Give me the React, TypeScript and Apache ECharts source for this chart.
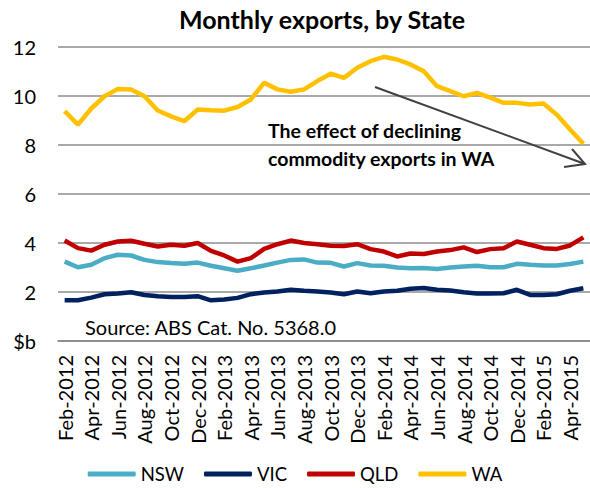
import React, { useEffect, useRef } from "react";
import * as echarts from "echarts";

const months = [
  "Feb-2012", "Mar-2012", "Apr-2012", "May-2012", "Jun-2012", "Jul-2012", "Aug-2012", "Sep-2012", "Oct-2012", "Nov-2012", "Dec-2012", "Jan-2013",
  "Feb-2013", "Mar-2013", "Apr-2013", "May-2013", "Jun-2013", "Jul-2013", "Aug-2013", "Sep-2013", "Oct-2013", "Nov-2013", "Dec-2013", "Jan-2014",
  "Feb-2014", "Mar-2014", "Apr-2014", "May-2014", "Jun-2014", "Jul-2014", "Aug-2014", "Sep-2014", "Oct-2014", "Nov-2014", "Dec-2014", "Jan-2015",
  "Feb-2015", "Mar-2015", "Apr-2015", "May-2015",
];

const nsw = [3.24, 3.01, 3.11, 3.38, 3.52, 3.49, 3.31, 3.22, 3.18, 3.15, 3.20, 3.07, 2.97, 2.87, 2.97, 3.08, 3.20, 3.31, 3.33, 3.20,
  3.19, 3.04, 3.18, 3.08, 3.07, 3.0, 2.97, 2.98, 2.94, 3.0, 3.04, 3.07, 3.01, 3.01, 3.15, 3.11, 3.08, 3.08, 3.14, 3.24];
const vic = [1.66, 1.66, 1.77, 1.91, 1.94, 1.99, 1.88, 1.83, 1.80, 1.80, 1.83, 1.66, 1.69, 1.76, 1.91, 1.98, 2.02, 2.09, 2.05, 2.02,
  1.98, 1.91, 2.02, 1.95, 2.02, 2.05, 2.13, 2.16, 2.09, 2.06, 1.99, 1.94, 1.94, 1.95, 2.09, 1.88, 1.88, 1.91, 2.05, 2.15];
const qld = [4.10, 3.79, 3.69, 3.93, 4.06, 4.09, 3.97, 3.86, 3.93, 3.89, 4.0, 3.68, 3.49, 3.24, 3.38, 3.76, 3.95, 4.10, 4.0, 3.95,
  3.89, 3.88, 3.95, 3.75, 3.65, 3.45, 3.57, 3.55, 3.65, 3.71, 3.82, 3.63, 3.75, 3.79, 4.06, 3.93, 3.79, 3.76, 3.90, 4.23];
const wa = [9.38, 8.83, 9.49, 9.99, 10.29, 10.27, 9.99, 9.41, 9.17, 8.97, 9.45, 9.42, 9.40, 9.55, 9.86, 10.54, 10.27, 10.17, 10.27, 10.61,
  10.91, 10.74, 11.15, 11.42, 11.60, 11.49, 11.29, 11.01, 10.40, 10.20, 9.99, 10.13, 9.93, 9.72, 9.72, 9.65, 9.69, 9.24, 8.63, 8.05];

const seriesNames = ["NSW", "VIC", "QLD", "WA"];
const seriesColors = ["#4BACC6", "#002060", "#C00000", "#FFC000"];
const seriesData = [nsw, vic, qld, wa];

const FONT = "Lato";

export default function App() {
  const ref = useRef<HTMLDivElement>(null);
  useEffect(() => {
    if (!ref.current) return;
    const chart = echarts.init(ref.current, undefined, { renderer: "svg" });
    chart.setOption({
      animation: false,
      backgroundColor: "#ffffff",
      textStyle: { fontFamily: FONT },
      grid: { left: 58, top: 47, width: 534, height: 294, containLabel: false },
      legend: {
        top: 462,
        left: "center",
        padding: [2, 5, 2, 5],
        data: seriesNames,
        icon: "roundRect",
        itemWidth: 48,
        itemHeight: 5,
        itemGap: 20,
        textStyle: { fontFamily: FONT, fontSize: 18.5, color: "#000", lineHeight: 20 },
      },
      xAxis: {
        type: "category",
        data: months,
        boundaryGap: true,
        axisLine: { lineStyle: { color: "#868686", width: 1.5 } },
        axisTick: { interval: 1, length: 7, lineStyle: { color: "#868686", width: 1.5 } },
        axisLabel: {
          interval: 1,
          rotate: 90,
          margin: 14,
          fontFamily: FONT,
          fontSize: 20,
          color: "#000",
        },
      },
      yAxis: {
        type: "value",
        min: 0,
        max: 12,
        interval: 2,
        axisLine: { show: false },
        axisTick: { show: false },
        axisLabel: {
          margin: 22,
          fontFamily: FONT,
          fontSize: 20,
          color: "#000",
          formatter: (v: number) => (v === 0 ? "$b" : String(v)),
        },
        splitLine: { lineStyle: { color: "#8C8C8C", width: 1.5 } },
      },
      series: seriesNames.map((name, i) => ({
        name,
        type: "line",
        data: seriesData[i],
        showSymbol: false,
        symbol: "none",
        lineStyle: { color: seriesColors[i], width: 4.5 },
        itemStyle: { color: seriesColors[i] },
        z: 3,
      })),
      graphic: [
        {
          type: "text",
          x: 322,
          y: 19,
          style: {
            text: "Monthly exports, by State",
            fontFamily: FONT,
            fontWeight: "bold",
            fontSize: 25,
            fill: "#000",
            textAlign: "center",
            textVerticalAlign: "middle",
          },
        },
        {
          type: "text",
          x: 268,
          y: 144,
          style: {
            text: "The effect of declining\ncommodity exports in WA",
            fontFamily: FONT,
            fontWeight: "bold",
            fontSize: 19.5,
            lineHeight: 28,
            fill: "#000",
            textAlign: "left",
            textVerticalAlign: "middle",
          },
        },
        {
          type: "text",
          x: 85,
          y: 327,
          style: {
            text: "Source: ABS Cat. No. 5368.0",
            fontFamily: FONT,
            fontSize: 20,
            fill: "#000",
            textAlign: "left",
            textVerticalAlign: "middle",
          },
        },
        {
          type: "line",
          shape: { x1: 375, y1: 87, x2: 585, y2: 164 },
          style: { stroke: "#404040", lineWidth: 2 },
          z: 10,
        },
        {
          type: "polyline",
          shape: { points: [[572, 149], [585, 164], [564, 167]] },
          style: { stroke: "#404040", lineWidth: 2, fill: "none" },
          z: 10,
        },
      ],
    });
    return () => chart.dispose();
  }, []);
  return (
    <div
      ref={ref}
      style={{ position: "fixed", left: 0, top: 0, width: 590, height: 488 }}
    />
  );
}
